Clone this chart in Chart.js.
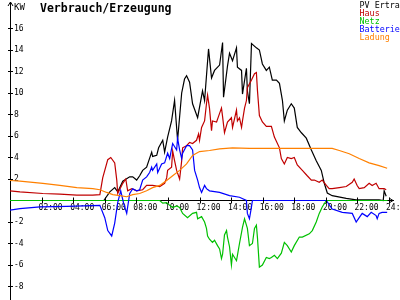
<!DOCTYPE html>
<html><head><meta charset="utf-8">
<script src="https://cdn.jsdelivr.net/npm/chart.js@4/dist/chart.umd.min.js"></script>
<style>html,body{margin:0;padding:0;background:#fff}canvas{display:block}</style>
</head><body>
<canvas id="c" width="400" height="300"></canvas>
<script>
const titleText = "Verbrauch/Erzeugung";
const unitText = "KW";
const seriesNames = ["PV Ertrag", "Haus", "Netz", "Batterie", "Ladung"];
const seriesColors = ["#000000", "#c00000", "#00c000", "#0000ff", "#ff8000"];
const xTickValues = [2,4,6,8,10,12,14,16,18,20,22,24];
const yTickValues = [-8,-6,-4,-2,2,4,6,8,10,12,14,16];

const pvErtrag = [[0,0],[5.7,0],[5.94,0],[6.32,0.8],[6.63,1.2],[6.82,0.8],[7.14,1.8],[7.58,2.2],[7.77,2.2],[8.02,1.9],[8.21,2.3],[8.40,2.8],[8.65,3.1],[8.97,4.5],[9.03,4.1],[9.29,4.2],[9.41,4.9],[9.67,5.6],[9.79,4.5],[9.98,5.9],[10.23,7.4],[10.42,9.3],[10.61,5.6],[10.87,10.0],[11.05,11.3],[11.18,11.6],[11.37,11.0],[11.56,9.0],[11.88,7.7],[12.19,10.2],[12.32,9.3],[12.57,14.1],[12.76,11.4],[12.95,12.1],[13.27,12.6],[13.46,14.7],[13.52,9.6],[13.77,12.5],[13.90,13.7],[14.09,13.0],[14.34,14.2],[14.40,12.4],[14.66,12.1],[14.72,9.9],[14.97,12.3],[15.03,10.2],[15.16,9.0],[15.29,14.6],[15.60,14.2],[15.79,14.0],[15.98,12.7],[16.23,12.1],[16.42,12.4],[16.61,11.2],[16.87,11.2],[17.06,10.9],[17.25,9.3],[17.37,7.4],[17.56,8.4],[17.81,9.0],[18.00,8.6],[18.19,6.8],[18.45,6.3],[18.76,5.8],[19.08,4.7],[19.39,3.7],[19.71,2.8],[19.90,1.6],[20.09,0.7],[20.40,0.45],[21.29,0.2],[21.92,0.05],[23.37,0.05],[23.63,0],[23.69,0.9],[23.82,0.4]];

const haus = [[0,0.9],[0.63,0.8],[2.08,0.65],[3.16,0.6],[4.23,0.5],[5.24,0.5],[5.69,0.55],[5.87,2.1],[6.19,3.8],[6.38,4.0],[6.63,3.5],[6.76,1.9],[6.82,0.65],[7.14,1.6],[7.33,2.0],[7.45,0.9],[7.71,1.1],[8.02,0.9],[8.40,1.0],[8.65,1.4],[9.03,1.4],[9.48,1.3],[9.79,1.6],[9.92,2.1],[9.98,2.8],[10.23,3.1],[10.30,4.6],[10.42,3.7],[10.55,2.8],[10.74,2.0],[10.87,3.7],[10.93,4.9],[11.18,5.1],[11.37,5.4],[11.56,5.3],[11.81,5.6],[11.94,6.2],[12.00,5.6],[12.13,6.8],[12.32,7.4],[12.44,9.0],[12.51,9.8],[12.63,8.6],[12.76,6.5],[12.82,7.4],[13.08,7.3],[13.27,8.1],[13.39,8.6],[13.46,7.8],[13.58,6.3],[13.77,7.3],[14.02,7.7],[14.09,6.8],[14.34,8.4],[14.40,7.4],[14.53,7.7],[14.66,6.8],[14.72,7.4],[14.85,8.6],[14.97,9.3],[15.03,10.5],[15.29,11.2],[15.48,11.8],[15.60,11.9],[15.67,10.2],[15.79,7.9],[15.98,7.3],[16.23,6.9],[16.55,6.9],[16.74,5.9],[17.06,4.9],[17.18,3.9],[17.37,3.4],[17.56,4.0],[17.81,3.9],[18.00,4.0],[18.19,3.3],[18.51,2.8],[18.82,2.3],[19.08,1.9],[19.27,1.9],[19.58,1.7],[19.77,1.9],[20.03,1.4],[20.21,1.1],[20.40,1.1],[20.85,1.2],[21.29,1.3],[21.67,1.7],[21.79,2.0],[21.98,1.4],[22.11,1.1],[22.43,1.2],[22.74,1.6],[22.93,1.4],[23.18,1.6],[23.37,1.1],[23.69,1.1],[23.82,1.0]];

const netz = [[0,0],[9.48,0],[9.67,-0.25],[9.92,-0.2],[10.11,-0.45],[10.30,-0.65],[10.55,-0.5],[10.74,-0.65],[10.93,-1.2],[11.24,-1.6],[11.56,-1.2],[11.81,-1.1],[11.88,-1.7],[12.13,-1.5],[12.32,-2.0],[12.44,-2.6],[12.51,-3.3],[12.63,-3.6],[12.82,-3.9],[12.95,-3.7],[13.14,-4.2],[13.27,-4.5],[13.39,-5.4],[13.46,-5.0],[13.58,-3.2],[13.71,-2.8],[13.77,-3.4],[13.90,-4.3],[14.02,-6.0],[14.09,-5.0],[14.34,-5.6],[14.40,-5.1],[14.53,-4.0],[14.72,-2.5],[14.85,-1.7],[15.03,-2.6],[15.16,-4.2],[15.35,-4.0],[15.48,-2.6],[15.60,-2.3],[15.67,-3.5],[15.79,-6.2],[15.98,-6.0],[16.23,-5.3],[16.42,-5.4],[16.55,-5.3],[16.74,-5.1],[16.93,-5.4],[17.18,-4.9],[17.37,-3.9],[17.56,-4.2],[17.81,-4.8],[18.00,-4.2],[18.32,-3.4],[18.51,-3.4],[18.95,-3.1],[19.14,-2.8],[19.39,-2.0],[19.58,-1.2],[19.77,-0.6],[20.03,0],[23.9,0]];

const batterie = [[0,-0.9],[0.63,-0.75],[1.90,-0.6],[3.60,-0.55],[5.69,-0.45],[6.0,-1.6],[6.19,-2.8],[6.44,-3.3],[6.63,-2.1],[6.82,-0.2],[7.01,0.9],[7.20,-0.3],[7.39,-1.2],[7.58,0.65],[7.77,1.1],[8.02,0.9],[8.21,1.0],[8.40,1.9],[8.65,2.2],[8.84,2.6],[8.97,3.1],[9.03,2.8],[9.29,3.4],[9.35,2.6],[9.60,3.4],[9.79,3.5],[9.98,4.4],[10.11,3.9],[10.23,4.8],[10.30,5.3],[10.55,4.7],[10.61,5.8],[10.74,4.7],[10.87,3.9],[10.93,4.4],[11.18,5.1],[11.37,5.1],[11.56,4.7],[11.69,2.8],[11.88,1.9],[12.00,1.2],[12.13,0.75],[12.32,1.4],[12.44,1.1],[12.63,0.9],[13.27,0.75],[13.90,0.45],[14.53,0.3],[14.97,0],[15.03,-1.2],[15.16,-1.7],[15.29,-0.6],[15.35,0],[20.03,0],[20.40,-0.8],[21.04,-1.1],[21.67,-1.2],[21.92,-2.0],[22.11,-1.6],[22.30,-1.2],[22.62,-1.5],[22.87,-1.1],[23.18,-1.4],[23.25,-1.7],[23.37,-1.2],[23.56,-1.1],[23.88,-1.1]];

const ladung = [[0,1.86],[0.63,1.8],[2.08,1.6],[3.16,1.4],[4.23,1.2],[5.24,1.1],[5.69,1.0],[6.12,0.75],[6.51,0.55],[6.95,0.45],[7.39,0.35],[7.77,0.55],[8.21,0.65],[8.65,0.9],[9.03,1.2],[9.48,1.4],[9.92,1.86],[10.30,2.3],[10.74,2.8],[11.18,3.4],[11.56,4.2],[12.00,4.55],[12.63,4.65],[13.27,4.8],[14.09,4.9],[15.16,4.85],[18.32,4.85],[20.40,4.85],[20.85,4.65],[21.48,4.35],[22.11,3.9],[22.74,3.5],[23.37,3.25],[23.88,3.0]];

const seriesData = [pvErtrag, haus, netz, batterie, ladung];
const FONT = "DejaVu Sans Mono";

const decor = {
  id: 'decor',
  afterDraw(chart) {
    const ctx = chart.ctx, xs = chart.scales.x, ys = chart.scales.y;
    const ca = chart.chartArea;
    const ax = Math.round(xs.getPixelForValue(0)) + 0.5;
    const ay = Math.round(ys.getPixelForValue(0)) + 0.5;
    ctx.save();
    ctx.strokeStyle = '#000'; ctx.lineWidth = 1;
    ctx.beginPath();
    xTickValues.forEach(v => { const p = Math.round(xs.getPixelForValue(v)) + 0.5; ctx.moveTo(p, ay - 3); ctx.lineTo(p, ay + 3); });
    yTickValues.forEach(v => { const p = Math.round(ys.getPixelForValue(v)) + 0.5; ctx.moveTo(ax - 2.5, p); ctx.lineTo(ax + 2.5, p); });
    ctx.moveTo(ax - 2.5, ca.top + 4); ctx.lineTo(ax, ca.top); ctx.lineTo(ax + 2.5, ca.top + 4);
    ctx.moveTo(ca.right - 4, ay - 2.5); ctx.lineTo(ca.right, ay); ctx.lineTo(ca.right - 4, ay + 2.5);
    ctx.stroke();
    ctx.fillStyle = '#000';
    ctx.textBaseline = 'alphabetic';
    ctx.font = 'bold 11.5px "' + FONT + '"';
    ctx.fillText(titleText, 40, 11.5);
    ctx.font = '9px "' + FONT + '"';
    ctx.fillText(unitText, 14, 9.5);
    ctx.font = '8.4px "' + FONT + '"';
    chart.data.datasets.forEach((ds, i) => {
      ctx.fillStyle = ds.borderColor;
      ctx.fillText(ds.label, 359.5, 7.5 + 8 * i);
    });
    ctx.restore();
  }
};

new Chart(document.getElementById('c'), {
  type: 'line',
  data: {
    datasets: seriesNames.map((n, i) => ({
      label: n,
      data: seriesData[i],
      borderColor: seriesColors[i],
      backgroundColor: seriesColors[i],
      borderWidth: 1.2,
      pointRadius: 0,
      tension: 0,
      fill: false,
      order: 5 - i
    }))
  },
  options: {
    responsive: false,
    animation: false,
    events: [],
    layout: { padding: { left: 10, right: 7, top: 2, bottom: 1 } },
    plugins: { legend: { display: false }, title: { display: false }, tooltip: { enabled: false } },
    scales: {
      x: {
        type: 'linear',
        position: { y: 0 },
        min: 0, max: 24.25,
        grid: { display: true, drawOnChartArea: false, drawTicks: false },
        border: { display: true, color: '#000', width: 1 },
        afterBuildTicks: s => { s.ticks = xTickValues.map(v => ({ value: v })); },
        afterFit: s => { s.paddingLeft = 0; s.paddingRight = 0; s.paddingTop = 0; s.paddingBottom = 0; },
        ticks: {
          autoSkip: false, maxRotation: 0, minRotation: 0,
          align: 'start', labelOffset: -3, padding: 3,
          color: '#000', font: { family: FONT, size: 8 },
          callback: v => (v < 10 ? '0' : '') + v + ':00'
        }
      },
      y: {
        type: 'linear',
        position: 'left',
        min: -9.163, max: 18.465,
        grid: { display: true, drawOnChartArea: false, drawTicks: false },
        border: { display: true, color: '#000', width: 1 },
        afterBuildTicks: s => { s.ticks = yTickValues.map(v => ({ value: v })); },
        afterFit: s => { s.width = 0; s.paddingTop = 0; s.paddingBottom = 0; s.paddingLeft = 0; s.paddingRight = 0; },
        ticks: {
          autoSkip: false, mirror: true, padding: 4,
          color: '#000', font: { family: FONT, size: 8 },
          callback: v => String(v)
        }
      }
    }
  },
  plugins: [decor]
});
</script>
</body></html>
